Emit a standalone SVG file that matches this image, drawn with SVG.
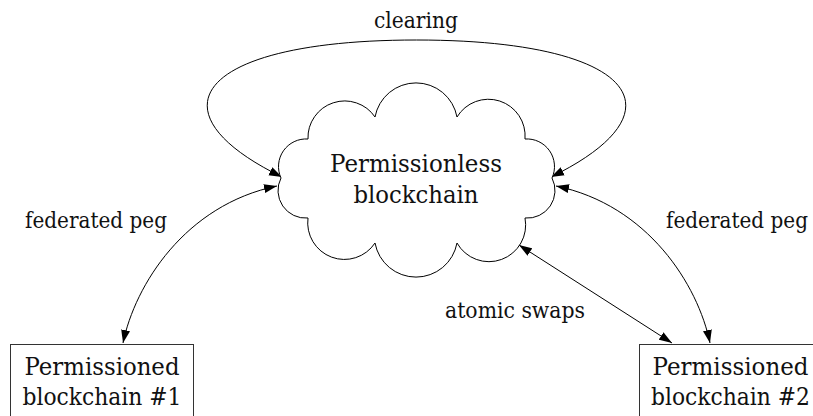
<svg xmlns="http://www.w3.org/2000/svg" width="813" height="416" viewBox="0 0 813 416">
  <defs>
    <marker id="arr" markerUnits="userSpaceOnUse" markerWidth="14" markerHeight="10" refX="13" refY="5" orient="auto-start-reverse">
      <path d="M0,0.5 L13,5 L0,9.5 Z" fill="#000"/>
    </marker>
  </defs>
  <style>
    text { font-family: "DejaVu Serif", "Liberation Serif", serif; font-size: 23px; fill: #111; text-anchor: middle; }
    .big { font-size: 24px; }
    .edge { fill: none; stroke: #000; stroke-width: 1; marker-start: url(#arr); marker-end: url(#arr); }
    .cloud { fill: #fff; stroke: #000; stroke-width: 1; }
    .box { fill: #fff; stroke: #333; stroke-width: 1; }
  </style>
  <rect width="813" height="416" fill="#fff"/>

  <g id="connectors">
    <path class="edge" d="M282,177 C145,110 200,40 416.5,40 C633,40 688,110 551,177"/>
    <path class="edge" d="M277,186 C185,205 135,285 123,343"/>
    <path class="edge" d="M556,186 C648,205 698,285 710,343"/>
    <path class="edge" d="M519,245 L672,343"/>
    <text x="416" y="28" textLength="84" lengthAdjust="spacingAndGlyphs">clearing</text>
    <text x="96" y="228" textLength="142" lengthAdjust="spacingAndGlyphs">federated peg</text>
    <text x="737" y="228" textLength="142" lengthAdjust="spacingAndGlyphs">federated peg</text>
    <text x="515" y="318" textLength="140" lengthAdjust="spacingAndGlyphs">atomic swaps</text>
  </g>

  <g id="permissionless">
    <path class="cloud" d="M308,139 A36.7,36.7 0 0 1 375,117 A41.7,41.7 0 0 1 457,117 A36.7,36.7 0 0 1 525,139 A27.6,27.6 0 0 1 552,178 A27.6,27.6 0 0 1 525,218 A36.7,36.7 0 0 1 457,243 A41.7,41.7 0 0 1 375,243 A36.7,36.7 0 0 1 308,218 A27.6,27.6 0 0 1 281,178 A27.6,27.6 0 0 1 308,139 Z"/>
    <text class="big" x="416" y="172" textLength="172" lengthAdjust="spacingAndGlyphs">Permissionless</text>
    <text class="big" x="416" y="203" textLength="125" lengthAdjust="spacingAndGlyphs">blockchain</text>
  </g>

  <g id="permissioned1">
    <rect class="box" x="10.5" y="344.5" width="183" height="90"/>
    <text class="big" x="102" y="375" textLength="155" lengthAdjust="spacingAndGlyphs">Permissioned</text>
    <text class="big" x="102" y="405" textLength="159" lengthAdjust="spacingAndGlyphs">blockchain #1</text>
  </g>

  <g id="permissioned2">
    <rect class="box" x="639.5" y="344.5" width="183" height="90"/>
    <text class="big" x="730.5" y="375" textLength="156" lengthAdjust="spacingAndGlyphs">Permissioned</text>
    <text class="big" x="730.5" y="405" textLength="159" lengthAdjust="spacingAndGlyphs">blockchain #2</text>
  </g>
</svg>
